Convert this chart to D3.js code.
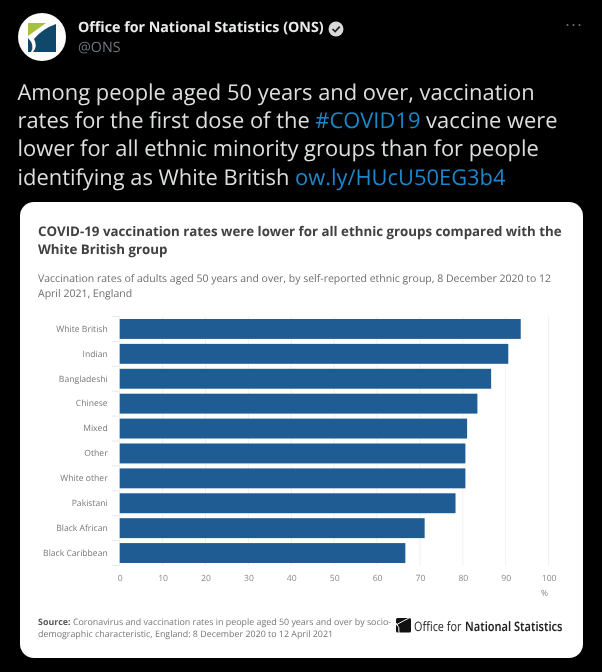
<!DOCTYPE html>
<html><head><meta charset="utf-8">
<script src="https://cdn.jsdelivr.net/npm/d3@7/dist/d3.min.js"></script>
<style>
html,body{margin:0;padding:0;background:#000;overflow:hidden}
svg{display:block;filter:blur(0.35px)}
text{text-rendering:geometricPrecision}
</style></head><body>
<svg id="c" width="602" height="672"></svg>
<script>
const categories=["White British","Indian","Bangladeshi","Chinese","Mixed","Other","White other","Pakistani","Black African","Black Caribbean"];
const rates=[93.5,90.6,86.6,83.4,81.0,80.6,80.6,78.3,71.1,66.6];
const xTicks=[0,10,20,30,40,50,60,70,80,90,100];
const tweetLines=[
 [["Among people aged 50 years and over, vaccination",0]],
 [["rates for the first dose of the ",0],["#COVID19",1],[" vaccine were",0]],
 [["lower for all ethnic minority groups than for people",0]],
 [["identifying as White British ",0],["ow.ly/HUcU50EG3b4",1]]
];
const chartTitle=["COVID-19 vaccination rates were lower for all ethnic groups compared with the","White British group"];
const chartSub=["Vaccination rates of adults aged 50 years and over, by self-reported ethnic group, 8 December 2020 to 12","April 2021, England"];
const sourceLines=["Coronavirus and vaccination rates in people aged 50 years and over by socio-","demographic characteristic, England: 8 December 2020 to 12 April 2021"];

const svg=d3.select("#c");
const txt=(g,x,y,s,size,fill,weight,font)=>g.append("text").attr("x",x).attr("y",y).text(s)
  .attr("font-size",size).attr("fill",fill).attr("font-weight",weight||400).attr("font-family",font||"'Open Sans'");
// condensed text: fit a run to a width by horizontal scaling
const fitted=(g,x,yy,s,size,fill,weight,font,w)=>{
  const t=g.append("text").text(s).attr("font-size",size).attr("fill",fill).attr("font-weight",weight).attr("font-family",font);
  t.attr("transform",`translate(${x},${yy}) scale(${w/t.node().getComputedTextLength()},1)`);
  return t;
};

// Tweet header
const head=svg.append("g");
head.append("circle").attr("cx",42).attr("cy",37).attr("r",24).attr("fill","#fdfdfb");
head.append("path").attr("d","M28 23H46L28 36Z").attr("fill","#a8c040");
head.append("path").attr("d","M34 39Q42 29 56 24V52H33Q38 46 34 39Z").attr("fill","#0f4868");
head.append("path").attr("d","M28 38Q35 45 31 52H28Z").attr("fill","#0f4868");
txt(head,78,32,"Office for National Statistics (ONS)",14.25,"#e9eaeb",700);
head.append("circle").attr("cx",336).attr("cy",29).attr("r",7.5).attr("fill","#d9d9d9");
head.append("path").attr("d","M332.5 29l2.6 2.6 4.6-5").attr("fill","none").attr("stroke","#222").attr("stroke-width",1.7);
txt(head,78,52,"@ONS",14.3,"#6e767d");
head.selectAll("circle.d").data([568,574,580]).join("circle").attr("class","d").attr("cx",d=>d-0.5).attr("cy",25).attr("r",1).attr("fill","#6e767d");

// Tweet text
const tw=svg.append("g");
tweetLines.forEach((ln,i)=>{
  const t=tw.append("text").attr("x",17.5).attr("y",100+i*28.2).attr("font-size",21.9).attr("font-family","'Open Sans'");
  ln.forEach(([s,l])=>t.append("tspan").text(s).attr("fill",l?"#1d86c8":"#dcdedf"));
});

// Card
const card=svg.append("g");
card.append("rect").attr("x",20).attr("y",202).attr("width",563).attr("height",456).attr("rx",14).attr("fill","#fff");
chartTitle.forEach((s,i)=>txt(card,38,235.5+i*18.8,s,13.3,"#414042",700));
chartSub.forEach((s,i)=>txt(card,38,282+i*14.5,s,10.5,"#6d6e71"));

// Chart
const x=d3.scaleLinear().domain([0,100]).range([119.7,548.6]);
const y=d3.scaleBand().domain(categories).range([316.5,565.5]).paddingInner(0.2).paddingOuter(0.1);
const plot=svg.append("g");
plot.append("g").selectAll("line").data(xTicks).join("line")
  .attr("x1",d=>x(d)).attr("x2",d=>x(d)).attr("y1",316.5).attr("y2",565.5).attr("stroke","#f0f0f0");
plot.append("g").selectAll("rect").data(categories).join("rect")
  .attr("x",x(0)).attr("y",d=>y(d)).attr("height",y.bandwidth())
  .attr("width",(d,i)=>x(rates[i])-x(0)).attr("fill","#1f5c93");
const ax=plot.append("g").attr("transform","translate(0,565.5)")
  .call(d3.axisBottom(x).tickValues(xTicks).tickSize(0).tickPadding(9));
ax.select(".domain").remove();
ax.selectAll("text").attr("font-size",8.6).attr("fill","#8a8b8d").attr("font-family","'Open Sans'");
const ay=plot.append("g").attr("transform","translate(119.7,0)")
  .call(d3.axisLeft(y).tickSize(0).tickPadding(12));
ay.select(".domain").remove();
ay.selectAll("text").attr("font-size",8.6).attr("fill","#77787b").attr("font-family","'Open Sans'");
plot.append("g").selectAll("line").data(d3.range(categories.length+1)).join("line")
  .attr("x1",112).attr("x2",119.7).attr("y1",i=>316.5+i*24.9).attr("y2",i=>316.5+i*24.9).attr("stroke","#e8e8e8");
txt(plot,541,596,"%",8.6,"#8a8b8d");

// Source
const src=svg.append("g");
const s0=txt(src,38,625,"Source: ",8.9,"#58595b",700);
s0.append("tspan").text(sourceLines[0]).attr("font-weight",400).attr("fill","#77787b");
txt(src,38,637,sourceLines[1],8.9,"#77787b");

// ONS logo
src.append("rect").attr("x",396).attr("y",618).attr("width",15).attr("height",14.5).attr("rx",1.5).attr("fill","#111");
src.append("path").attr("d","M396 625Q403 621 411 617M399 633Q400 627 396 623").attr("fill","none").attr("stroke","#fff").attr("stroke-width",1);
fitted(src,414,630.5,"Office for",13,"#333",400,"'Noto Sans'",47.5);
fitted(src,465,630.5,"National Statistics",13,"#222",600,"'Noto Sans'",97.5);
</script>
</body></html>
